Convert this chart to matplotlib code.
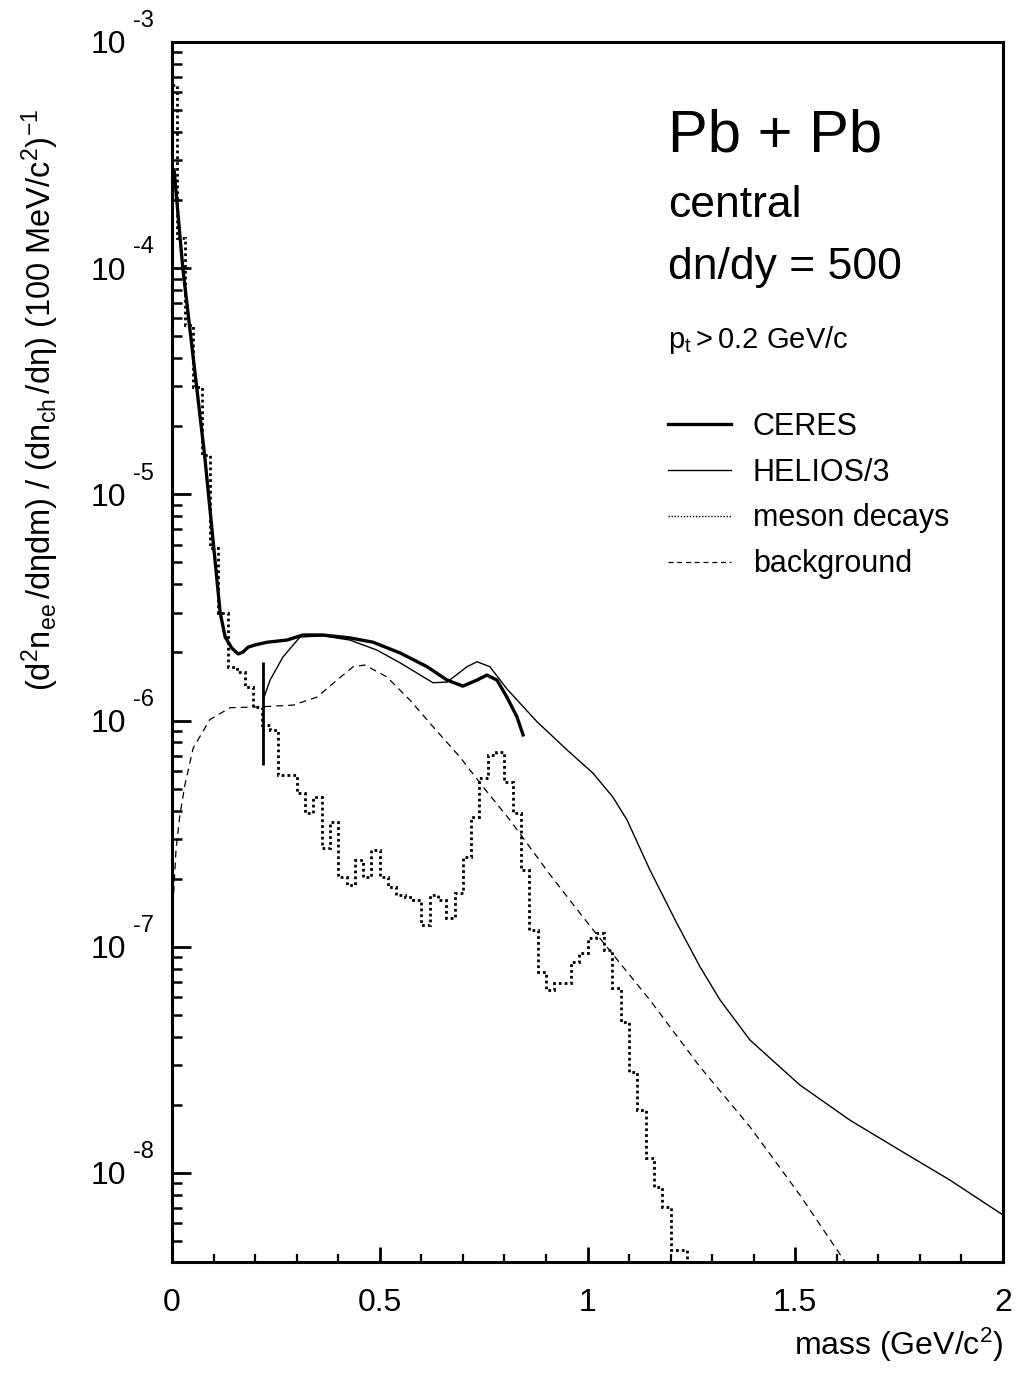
import matplotlib
matplotlib.use('Agg')
import matplotlib.pyplot as plt
import matplotlib.transforms as mtransforms
from matplotlib.lines import Line2D
from matplotlib.ticker import LogLocator, MultipleLocator, NullFormatter, FixedLocator

plt.rcParams['font.family'] = ['Liberation Sans', 'DejaVu Sans']
plt.rcParams['mathtext.fontset'] = 'custom'
plt.rcParams['mathtext.rm'] = 'Liberation Sans'
plt.rcParams['mathtext.it'] = 'Liberation Sans:italic'
plt.rcParams['mathtext.bf'] = 'Liberation Sans:bold'

# CERES (dicke Linie)
ceres_m = [0.005, 0.026, 0.079, 0.116, 0.128, 0.144, 0.159, 0.171, 0.183, 0.200,
           0.229, 0.277, 0.315, 0.363, 0.428, 0.484, 0.549, 0.614, 0.662, 0.700,
           0.734, 0.758, 0.782, 0.806, 0.830, 0.845]
ceres_y = [2.72e-4, 1.00e-4, 1.46e-5, 2.99e-6, 2.34e-6, 2.09e-6, 1.97e-6, 2.01e-6, 2.11e-6, 2.16e-6,
           2.22e-6, 2.27e-6, 2.39e-6, 2.39e-6, 2.32e-6, 2.22e-6, 1.99e-6, 1.73e-6, 1.51e-6, 1.42e-6,
           1.51e-6, 1.59e-6, 1.51e-6, 1.27e-6, 1.04e-6, 8.64e-7]

# HELIOS/3 (duenne Linie)
helios_m = [0.219, 0.236, 0.267, 0.308, 0.363, 0.428, 0.493, 0.549, 0.628, 0.662,
            0.710, 0.734, 0.765, 0.806, 0.878, 0.951, 1.013, 1.061, 1.095, 1.150,
            1.215, 1.271, 1.319, 1.391, 1.511, 1.632, 1.752, 1.872, 2.0]
helios_y = [1.23e-6, 1.51e-6, 1.91e-6, 2.34e-6, 2.37e-6, 2.27e-6, 2.05e-6, 1.80e-6, 1.47e-6, 1.48e-6,
            1.73e-6, 1.82e-6, 1.73e-6, 1.38e-6, 9.9e-7, 7.41e-7, 5.86e-7, 4.59e-7, 3.64e-7, 2.19e-7,
            1.27e-7, 8.14e-8, 5.82e-8, 3.87e-8, 2.45e-8, 1.71e-8, 1.26e-8, 9.31e-9, 6.52e-9]

# Fehlerbalken bei 0.22
bar_m = 0.219
bar_lo = 6.37e-7
bar_hi = 1.82e-6

# background (gestrichelt)
bg_m = [0.0024, 0.0096, 0.019, 0.031, 0.051, 0.091, 0.14, 0.212, 0.291, 0.349,
        0.397, 0.436, 0.464, 0.517, 0.573, 0.628, 0.693, 0.749, 0.813, 0.910,
        1.013, 1.150, 1.271, 1.391, 1.511, 1.630]
bg_y = [1.53e-7, 2.68e-7, 3.83e-7, 5.19e-7, 7.56e-7, 1.01e-6, 1.14e-6, 1.15e-6, 1.17e-6, 1.27e-6,
        1.51e-6, 1.73e-6, 1.76e-6, 1.56e-6, 1.23e-6, 9.4e-7, 6.90e-7, 5.08e-7, 3.64e-7, 2.08e-7,
        1.19e-7, 5.82e-8, 2.94e-8, 1.60e-8, 8.0e-9, 3.8e-9]

meson_edges = [0.0, 0.012, 0.031, 0.050, 0.072, 0.091, 0.110, 0.135, 0.157, 0.176,
               0.195, 0.217, 0.237, 0.256, 0.278] + [round(0.02 * i, 2) for i in range(15, 64)]
meson_vals = [6.46e-4, 1.36e-4, 5.61e-5, 2.98e-5, 1.49e-5, 5.79e-6, 2.99e-6, 1.73e-6, 1.64e-6, 1.41e-6,
              1.15e-6, 9.6e-7, 9.1e-7, 5.75e-7, 5.75e-7,
              4.8e-7, 3.9e-7, 4.6e-7, 2.73e-7, 3.56e-7,
              2.04e-7, 1.88e-7, 2.42e-7, 2.04e-7, 2.68e-7, 2.04e-7, 1.84e-7, 1.69e-7, 1.66e-7, 1.61e-7,
              1.25e-7, 1.69e-7, 1.61e-7, 1.34e-7, 1.73e-7, 2.49e-7, 3.75e-7, 5.57e-7, 7.05e-7, 7.27e-7,
              5.35e-7, 3.9e-7, 2.19e-7, 1.19e-7, 7.74e-8, 6.44e-8, 6.92e-8, 6.92e-8, 8.57e-8, 9.4e-8,
              1.09e-7, 1.15e-7, 9.7e-8, 6.58e-8, 4.65e-8, 2.79e-8, 1.90e-8, 1.16e-8, 8.67e-9, 7.08e-9,
              4.57e-9, 4.57e-9, 1e-12]

ytick_vals = [1e-3, 1e-4, 1e-5, 1e-6, 1e-7, 1e-8]
ytick_exp = ['-3', '-4', '-5', '-6', '-7', '-8']
xtick_vals = [0, 0.5, 1, 1.5, 2]
xtick_labels = ['0', '0.5', '1', '1.5', '2']

fig = plt.figure(figsize=(10.16, 13.85), dpi=100)
ax = fig.add_axes([0.1693, 0.0888, 0.8179, 0.8809])

ax.plot(ceres_m, ceres_y, color='k', lw=2.4)
ax.plot(helios_m, helios_y, color='k', lw=1.0)
ax.vlines(bar_m, bar_lo, bar_hi, color='k', lw=2.0)
ax.plot(bg_m, bg_y, color='k', lw=0.9, linestyle=(0, (5.5, 4)))
ax.stairs(meson_vals, meson_edges, baseline=None, color='k', lw=2.0,
          linestyle=(0, (1, 1.1)))

ax.set_yscale('log')
ax.set_xlim(0, 2)
ax.set_ylim(4.04e-9, 1e-3)

# Achsen im PAW-Stil
for s in ax.spines.values():
    s.set_linewidth(2.2)
ax.yaxis.set_major_locator(FixedLocator(ytick_vals))
ax.yaxis.set_minor_locator(LogLocator(base=10, subs=range(2, 10), numticks=20))
ax.yaxis.set_minor_formatter(NullFormatter())
ax.set_yticklabels(['10'] * len(ytick_vals))
ax.set_xticks(xtick_vals)
ax.set_xticklabels(xtick_labels)
ax.xaxis.set_minor_locator(MultipleLocator(0.1))
ax.tick_params(axis='y', which='major', direction='in', length=13.5, width=2,
               labelsize=23, pad=33, right=False)
ax.tick_params(axis='y', which='minor', direction='in', length=7, width=1.8, right=False)
ax.tick_params(axis='x', which='major', direction='in', length=11, width=2,
               labelsize=23, pad=19, top=False)
ax.tick_params(axis='x', which='minor', direction='in', length=6, width=1.6, top=False)

trans = mtransforms.blended_transform_factory(ax.transAxes, ax.transData)
for v, e in zip(ytick_vals, ytick_exp):
    ax.annotate(e, xy=(0, v), xycoords=trans, xytext=(-28, 15),
                textcoords='offset points', fontsize=17, ha='left', va='center')

fig.text(0.040, 0.711,
         r'$\mathregular{(d^2n_{ee}\,/d\eta dm)\ /\ (dn_{ch}\,/d\eta)\ (100\ MeV/c^2)^{-1}}$',
         rotation=90, ha='center', va='center', fontsize=23.5)
fig.text(0.987, 0.029, r'$\mathregular{mass\ (GeV/c^2)}$', ha='right', va='center', fontsize=23)

ax.text(0.597, 0.923, 'Pb + Pb', transform=ax.transAxes, fontsize=43, va='center')
ax.text(0.597, 0.866, 'central', transform=ax.transAxes, fontsize=32, va='center')
ax.text(0.597, 0.815, 'dn/dy = 500', transform=ax.transAxes, fontsize=32, va='center')
ax.text(0.597, 0.756, r'$\mathregular{p_t > 0.2\ GeV/c}$', transform=ax.transAxes,
        fontsize=21, va='center')

handles = [Line2D([], [], color='k', lw=2.4),
           Line2D([], [], color='k', lw=1.0),
           Line2D([], [], color='k', lw=1.0, linestyle=(0, (1, 1.2))),
           Line2D([], [], color='k', lw=0.9, linestyle=(0, (4, 3)))]
labels = ['CERES', 'HELIOS/3', 'meson decays', 'background']
ax.legend(handles, labels, loc='upper left', bbox_to_anchor=(0.597, 0.697),
          frameon=False, fontsize=22, handlelength=2.05, handletextpad=0.72,
          labelspacing=0.52, borderpad=0, borderaxespad=0)

fig.savefig('out.png', dpi=100)
